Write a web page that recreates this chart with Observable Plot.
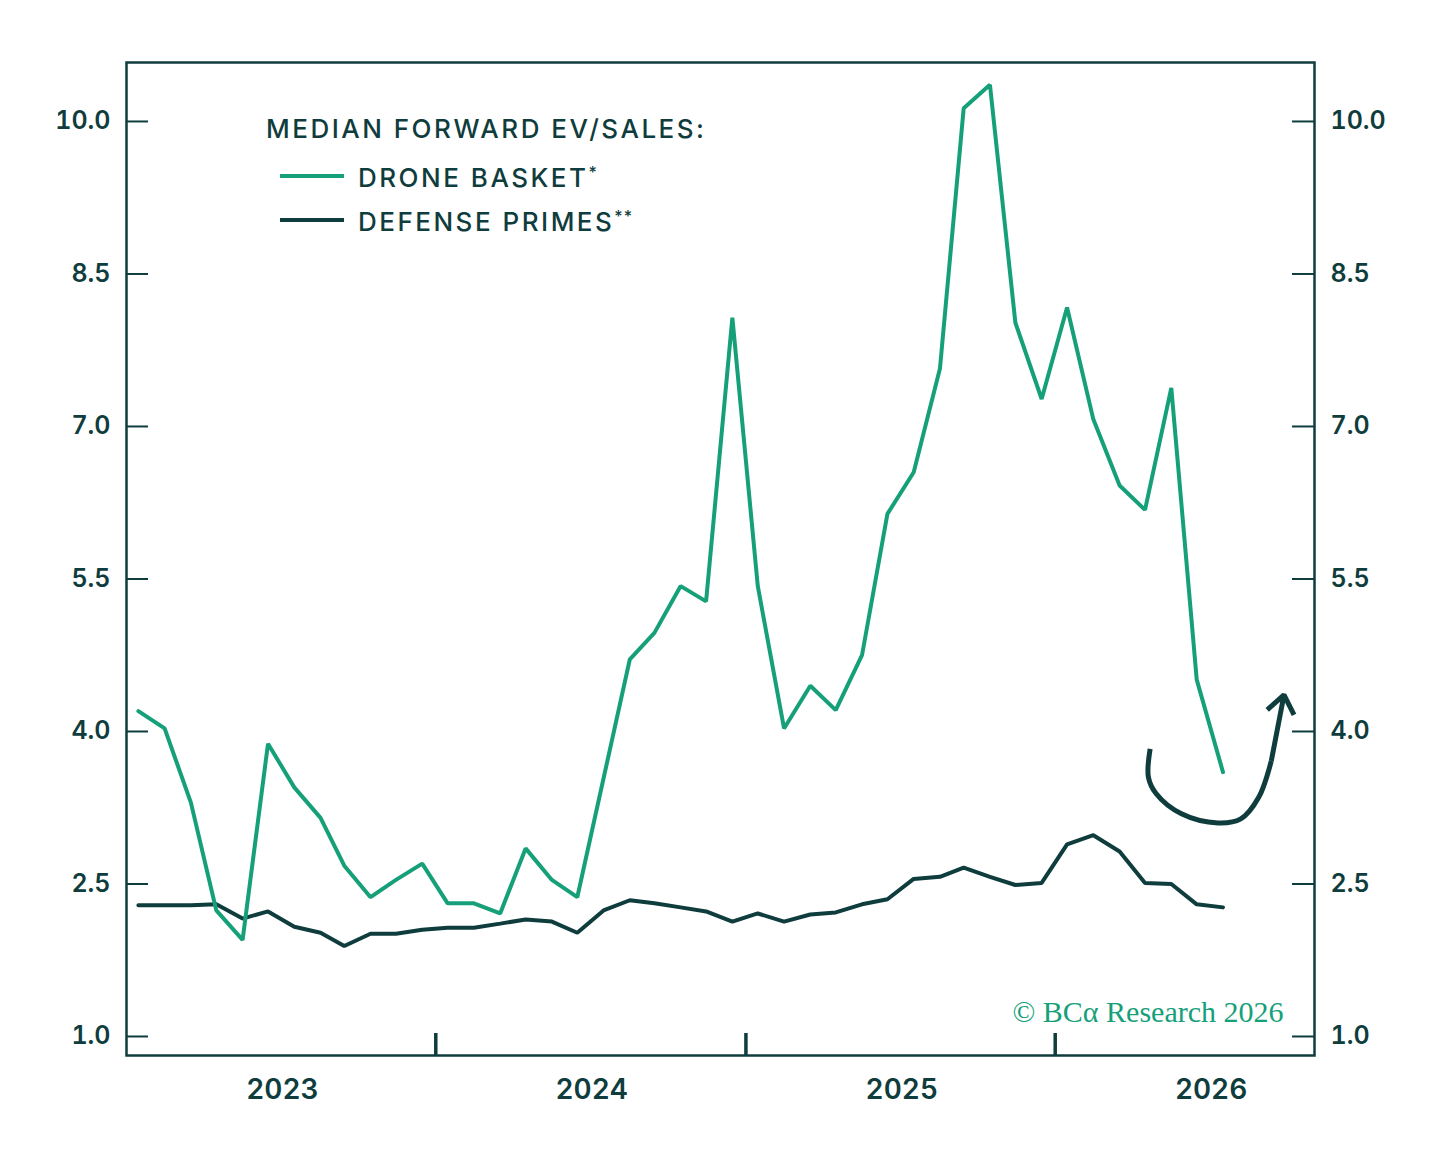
<!DOCTYPE html>
<html><head><meta charset="utf-8">
<script src="https://cdn.jsdelivr.net/npm/d3@7"></script>
<script src="https://cdn.jsdelivr.net/npm/@observablehq/plot@0.6"></script>
<style>
  html,body{margin:0;padding:0;background:#fff;}
  #wrap{position:relative;width:1440px;height:1161px;}
</style>
</head>
<body>
<div id="wrap"></div>
<script>
// ---- data ----
const months = [
  "2022-07-15","2022-08-15","2022-09-15","2022-10-15","2022-11-15","2022-12-15",
  "2023-01-15","2023-02-15","2023-03-15","2023-04-15","2023-05-15","2023-06-15",
  "2023-07-15","2023-08-15","2023-09-15","2023-10-15","2023-11-15","2023-12-15",
  "2024-01-15","2024-02-15","2024-03-15","2024-04-15","2024-05-15","2024-06-15",
  "2024-07-15","2024-08-15","2024-09-15","2024-10-15","2024-11-15","2024-12-15",
  "2025-01-15","2025-02-15","2025-03-15","2025-04-15","2025-05-15","2025-06-15",
  "2025-07-15","2025-08-15","2025-09-15","2025-10-15","2025-11-15","2025-12-15",
  "2026-01-15"
];
const droneBasket = [
  4.20, 4.03, 3.30, 2.24, 1.95, 3.88, 3.45, 3.15, 2.68, 2.37, 2.54, 2.70,
  2.31, 2.31, 2.21, 2.85, 2.54, 2.37, 3.54, 4.71, 4.97, 5.43, 5.28, 8.07,
  5.43, 4.03, 4.45, 4.21, 4.75, 6.14, 6.55, 7.57, 10.13, 10.36, 8.02, 7.27,
  8.17, 7.07, 6.42, 6.18, 7.38, 4.51, 3.60
];
const defensePrimes = [
  2.29, 2.29, 2.29, 2.30, 2.16, 2.23, 2.08, 2.02, 1.89, 2.01, 2.01, 2.05,
  2.07, 2.07, 2.11, 2.15, 2.13, 2.02, 2.24, 2.34, 2.31, 2.27, 2.23, 2.13,
  2.21, 2.13, 2.20, 2.22, 2.30, 2.35, 2.55, 2.57, 2.66, 2.57, 2.49, 2.51,
  2.89, 2.98, 2.82, 2.51, 2.50, 2.30, 2.27
];
const yTicks = [1.0, 2.5, 4.0, 5.5, 7.0, 8.5, 10.0];
const yearLabels = ["2023-01-01","2024-01-01","2025-01-01","2026-01-01"];
const midYearTicks = ["2023-07-01","2024-07-01","2025-07-01"];
const xDomain = ["2022-07-01","2026-05-03"];
const yDomain = [0.813, 10.58];
// annotation hook arrow (data coordinates)
const hookDates  = ["2025-10-21","2025-10-19","2025-10-28","2025-11-27","2026-01-09","2026-02-05","2026-02-26","2026-03-13"];
const hookValues = [3.83, 3.55, 3.39, 3.19, 3.10, 3.14, 3.35, 3.71];
const arrowTip = {from: ["2026-03-13", 3.71], to: ["2026-03-28", 4.36]};

const legendTitle = "MEDIAN FORWARD EV/SALES:";
const seriesNames = ["DRONE BASKET", "DEFENSE PRIMES"];
const seriesMarks = ["*", "**"];
const credit = "© BCα Research 2026";

// ---- build ----
const parse = d3.utcParse("%Y-%m-%d");
const rows = months.map((m, i) => ({date: parse(m), drone: droneBasket[i], defense: defensePrimes[i]}));
const hook = hookDates.map((d, i) => ({date: parse(d), v: hookValues[i]}));
const tip = [{x1: parse(arrowTip.from[0]), y1: arrowTip.from[1], x2: parse(arrowTip.to[0]), y2: arrowTip.to[1]}];

const dark = "#0f3c3c";
const green = "#16a079";
const W = 1440, H = 1161, mL = 126, mR = 126, mT = 62, mB = 106;
const plotW = W - mL - mR, plotH = H - mT - mB, tickLen = 22;
const font = "Inter, Lato, sans-serif";

const chart = Plot.plot({
  width: W, height: H,
  marginLeft: mL, marginRight: mR, marginTop: mT, marginBottom: mB,
  style: {fontFamily: font, color: dark, background: "white", overflow: "visible"},
  x: {type: "utc", domain: xDomain.map(parse)},
  y: {domain: yDomain},
  marks: [
    Plot.axisY(yTicks, {anchor: "left", tickSize: 0, tickPadding: 16, tickFormat: d3.format(".1f"),
      fontSize: 25, fontWeight: 600, label: null, fill: dark}),
    Plot.axisY(yTicks, {anchor: "right", tickSize: 0, tickPadding: 16, tickFormat: d3.format(".1f"),
      fontSize: 25, fontWeight: 600, label: null, fill: dark}),
    Plot.axisX(yearLabels.map(parse), {anchor: "bottom", tickSize: 0, tickPadding: 24,
      tickFormat: d3.utcFormat("%Y"), fontSize: 28, fontWeight: 600, label: null, fill: dark}),
    Plot.tickY(yTicks, {y: d => d, stroke: dark, strokeWidth: 2, insetRight: plotW - tickLen}),
    Plot.tickY(yTicks, {y: d => d, stroke: dark, strokeWidth: 2, insetLeft: plotW - tickLen}),
    Plot.tickX(midYearTicks.map(parse), {x: d => d, stroke: dark, strokeWidth: 3.5, insetTop: plotH - tickLen}),
    Plot.line(rows, {x: "date", y: "defense", stroke: dark, strokeWidth: 4, strokeLinejoin: "miter"}),
    Plot.line(rows, {x: "date", y: "drone", stroke: green, strokeWidth: 4, strokeLinejoin: "miter"}),
    Plot.line(hook, {x: "date", y: "v", curve: "catmull-rom", stroke: dark, strokeWidth: 5, strokeLinecap: "butt"}),
    Plot.arrow(tip, {x1: "x1", y1: "y1", x2: "x2", y2: "y2", stroke: dark, strokeWidth: 5,
      headLength: 24, headAngle: 75, strokeLinejoin: "miter", strokeLinecap: "butt"}),
    Plot.text([credit], {frameAnchor: "bottom-right", dx: -31, dy: -34, lineAnchor: "bottom",
      fontFamily: "Liberation Serif, serif", fontSize: 30, fill: green}),
    Plot.frame({stroke: dark, strokeWidth: 2.5})
  ]
});

// legend inside the plot area
const svg = d3.select(chart);
const lg = svg.append("g").attr("font-family", font).attr("fill", dark).attr("text-anchor", "start");
lg.append("text").attr("x", 266).attr("y", 138).attr("font-size", 26).attr("font-weight", 500)
  .attr("letter-spacing", 2.5).text(legendTitle);
const swColors = [green, dark];
const ys = [176, 220];
seriesNames.forEach((name, i) => {
  lg.append("line").attr("x1", 280).attr("x2", 344).attr("y1", ys[i]).attr("y2", ys[i])
    .attr("stroke", swColors[i]).attr("stroke-width", 4);
  const t = lg.append("text").attr("x", 358).attr("y", ys[i] + 11).attr("font-size", 26)
    .attr("font-weight", 500).attr("letter-spacing", 2.5);
  t.append("tspan").text(name);
  t.append("tspan").attr("font-size", 16).attr("dy", -9).attr("letter-spacing", 1).text(seriesMarks[i]);
});

document.getElementById("wrap").appendChild(chart);
</script>
</body></html>
